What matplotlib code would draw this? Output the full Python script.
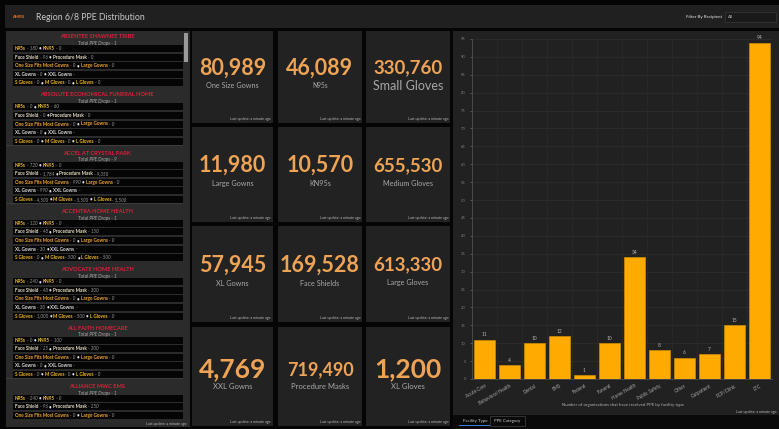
import matplotlib
matplotlib.use("Agg")
import matplotlib.pyplot as plt
from matplotlib.patches import Rectangle
import numpy as np

# ---- data ----
facility_types = ["Acute Care", "Behavioral Health", "Dental", "EMS", "Federal", "Funeral",
                  "Home Health", "Public Safety", "Other", "Outpatient", "PCP/Clinic", "LTC"]
facility_counts = [11, 4, 10, 12, 1, 10, 34, 8, 6, 7, 15, 94]

kpi_values = [["80,989", "46,089", "330,760"],
              ["11,980", "10,570", "655,530"],
              ["57,945", "169,528", "613,330"],
              ["4,769", "719,490", "1,200"]]
kpi_labels = [["One Size Gowns", "N95s", "Small Gloves"],
              ["Large Gowns", "KN95s", "Medium Gloves"],
              ["XL Gowns", "Face Shields", "Large Gloves"],
              ["XXL Gowns", "Procedure Masks", "XL Gloves"]]

recipients = ["ABSENTEE SHAWNEE TRIBE", "ABSOLUTE ECONOMICAL FUNERAL HOME", "ACCEL AT CRYSTAL PARK",
              "ACCENTRA HOME HEALTH", "ADVOCATE HOME HEALTH", "ALL FAITH HOMECARE", "ALLIANCE MWC EMS"]
drops = [1, 1, 9, 1, 1, 1, 1]
n95 = [180, 0, 720, 120, 240, 0, 240]
kn95 = [0, 60, 0, 0, 0, 100, 0]
face_shield = [96, 0, 1784, 48, 48, 25, 96]
proc_mask = [0, 0, 9350, 150, 300, 300, 250]
one_size = [0, 0, 990, 0, 0, 0, 0]
large_gowns = [0, 0, 0, 0, 0, 0, 0]
xl_gowns = [0, 0, 990, 30, 30, 0, 0]
s_gloves = [0, 0, 4500, 0, 1000, 0, 0]
m_gloves = [0, 0, 5500, 500, 500, 0, 0]
l_gloves = [0, 0, 5500, 500, 0, 0, 0]

W, H = 779, 429
plt.rcParams['font.family'] = ['Lato', 'DejaVu Sans']
fig = plt.figure(figsize=(W / 100, H / 100), dpi=100)
fig.patch.set_facecolor('#050505')
renderer = fig.canvas.get_renderer()


def box(x0, y0, x1, y1, color, ec='none', lw=0):
    fig.patches.append(Rectangle((x0 / W, 1 - y1 / H), (x1 - x0) / W, (y1 - y0) / H,
                                 transform=fig.transFigure, facecolor=color,
                                 edgecolor=ec, linewidth=lw))


def txt(x, y, s, size, color, **kw):
    kw.setdefault('va', 'center')
    return fig.text(x / W, 1 - y / H, s, fontsize=size, color=color, **kw)


def row(x, y, segments, size=3.3):
    # draw mixed-color text pieces one after another
    for s, color, bold in segments:
        t = txt(x, y, s, size, color, weight='bold' if bold else 'normal',
                style='normal' if bold else 'italic')
        x += t.get_window_extent(renderer).width + 1.3


# ---- header ----
box(5, 5, 779, 28, '#202020')
txt(12, 17, "AMRS", 3.2, '#e8742a', weight='bold')
txt(36, 17, "Region 6/8 PPE Distribution", 6.3, '#c8c8c8')
txt(722, 17, "Filter By Recipient", 3.2, '#bbbbbb', ha='right', weight='bold')
box(725, 12, 776, 22, '#1a1a1a', ec='#3a3a3a', lw=0.5)
txt(728, 17, "All", 3.2, '#bbbbbb')

# ---- left list panel ----
box(6, 31, 190, 427, '#2b2b2b')
box(184, 33, 188, 62, '#9a9a9a')
c_n95, c_face, c_gown, c_xl, c_glove, c_val = '#f2c230', '#e6dcc4', '#f0a431', '#dcdcdc', '#f5b920', '#9a9a9a'
for i, name in enumerate(recipients):
    ty = 36.5 + i * 58.3
    if i > 0:
        box(6, ty - 8, 183, ty - 7.6, '#3c3c3c')
    txt(97, ty, name, 4.1, '#dc2038', ha='center', weight='bold')
    txt(97, ty + 6.8, f"Total PPE Drops - {drops[i]}", 3.4, '#a8a8a8', ha='center', style='italic')
    rows = [
        [("N95s", c_n95, 1), (f"- {n95[i]:,}", c_val, 0), ("•", '#dddddd', 1), ("KN95", c_n95, 1), (f"- {kn95[i]:,}", c_val, 0)],
        [("Face Shield", c_face, 1), (f"- {face_shield[i]:,}", c_val, 0), ("•", '#dddddd', 1), ("Procedure Mask", c_face, 1), (f"- {proc_mask[i]:,}", c_val, 0)],
        [("One Size Fits Most Gowns", c_gown, 1), (f"- {one_size[i]:,}", c_val, 0), ("•", '#dddddd', 1), ("Large Gowns", c_gown, 1), (f"- {large_gowns[i]:,}", c_val, 0)],
        [("XL Gowns", c_xl, 1), (f"- {xl_gowns[i]:,}", c_val, 0), ("•", '#dddddd', 1), ("XXL Gowns", c_xl, 1), ("-", c_val, 0)],
        [("S Gloves", c_glove, 1), (f"- {s_gloves[i]:,}", c_val, 0), ("•", '#dddddd', 1), ("M Gloves", c_glove, 1), (f"- {m_gloves[i]:,}", c_val, 0),
         ("•", '#dddddd', 1), ("L Gloves", c_glove, 1), (f"- {l_gloves[i]:,}", c_val, 0)],
    ]
    for k, segs in enumerate(rows):
        ry = ty + 12 + k * 8.6
        if ry > 420:
            break
        box(13, ry - 3.5, 183, ry + 3.5, '#050505')
        row(15, ry, segs)
box(140, 420, 190, 427, '#2b2b2b')
txt(187, 424, "Last update: a minute ago", 2.6, '#bbbbbb', ha='right')

# ---- KPI tiles ----
col_x = [(192, 273), (278, 362), (366, 450)]
row_y = [(31, 123), (127, 222), (226, 322), (327, 426)]
num_size = [[15.5, 15.5, 13.5],
            [15.5, 15.5, 13.5],
            [15.5, 15.5, 13.5],
            [19, 13, 19]]
lab_size = [[5.2, 4.8, 9],
            [5.2, 5.2, 5.2],
            [5.2, 5.2, 5.2],
            [5.5, 5.5, 5.5]]
for r, (y0, y1) in enumerate(row_y):
    for c, (x0, x1) in enumerate(col_x):
        box(x0, y0, x1, y1, '#222222')
        cx = (x0 + x1) / 2
        cy = (y0 + y1) / 2
        txt(cx, cy - 9 + (r == 3) * 2, kpi_values[r][c], num_size[r][c], '#eea355', ha='center', weight='bold')
        txt(cx, cy + 9 + (r == 3) * 1, kpi_labels[r][c], lab_size[r][c], '#a8a8a8', ha='center')
        txt(x1 - 2, y1 - 4, "Last update: a minute ago", 2.6, '#bbbbbb', ha='right')

# ---- chart panel ----
box(453, 31, 779, 415, '#212121')
ax = fig.add_axes([472 / W, 1 - 379 / H, 300 / W, 340 / H])
ax.set_zorder(5)
ax.set_facecolor('none')
x = np.arange(len(facility_types))
ax.bar(x, facility_counts, width=0.84, color='#ffaa00', edgecolor='#d08c00', linewidth=0.5, zorder=3)
for xi, v in zip(x, facility_counts):
    ax.text(xi, v + 0.6, str(v), ha='center', va='bottom', fontsize=3.5, color='#b0b0b0')
ax.set_xlim(-0.5, 11.5)
ax.set_ylim(0, 95)
ax.set_yticks(np.arange(0, 96, 5))
ax.set_xticks(x)
ax.set_xticks(np.arange(-0.5, 12, 1), minor=True)
ax.set_xticklabels(facility_types, rotation=30, ha='right', rotation_mode='anchor', fontsize=3.3, color='#a8a8a8')
ax.tick_params(axis='y', labelsize=3, colors='#7a7a7a', length=1.5, width=0.4, pad=3)
ax.tick_params(axis='x', which='both', length=0, pad=3)
ax.grid(axis='y', color='#2e2e2e', linewidth=0.5, zorder=0)
ax.grid(axis='x', which='minor', color='#2b2b2b', linewidth=0.5, zorder=0)
for s in ['top', 'right']:
    ax.spines[s].set_visible(False)
for s in ['left', 'bottom']:
    ax.spines[s].set_color('#555555')
    ax.spines[s].set_linewidth(0.5)
txt(623, 405, "Number of organizations that have received PPE by facility type", 3.2, '#b0b0b0', ha='center')
txt(777, 412, "Last update: a minute ago", 2.6, '#bbbbbb', ha='right')

# tabs
box(453, 415, 779, 429, '#0a0a0a')
txt(475, 421, "Facility Type", 3.2, '#cccccc', ha='center')
box(459, 424.5, 490, 425.5, '#3a7bd5')
box(490, 415.5, 525, 426, '#0a0a0a', ec='#444444', lw=0.5)
txt(507.5, 421, "PPE Category", 3.2, '#cccccc', ha='center')

fig.savefig('out.png', dpi=100, facecolor=fig.get_facecolor())
